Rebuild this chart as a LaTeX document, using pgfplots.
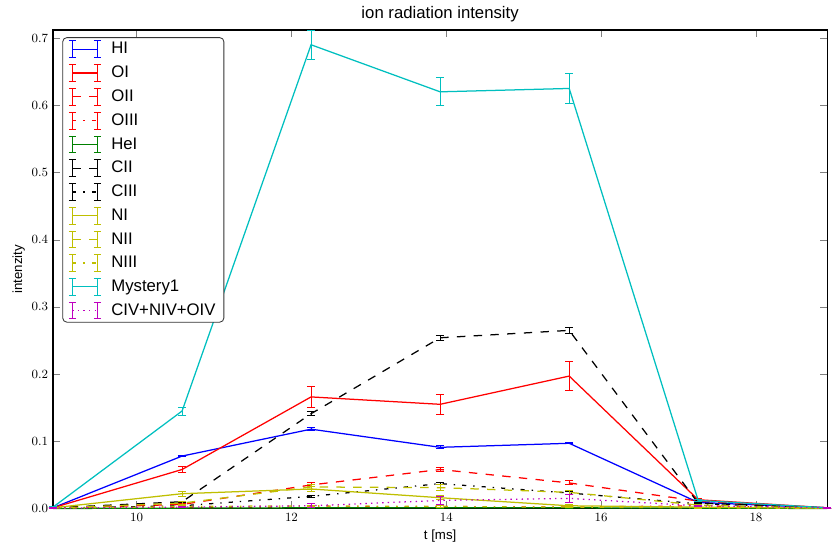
\documentclass[border=0pt]{standalone}
\usepackage{pgfplots}
\pgfplotsset{compat=1.18}
\usepackage{pgfplotstable}
\usepackage{fontspec}
\setmainfont{Liberation Sans}
\definecolor{mplb}{rgb}{0,0,1}
\definecolor{mplr}{rgb}{1,0,0}
\definecolor{mplg}{rgb}{0,0.5,0}
\definecolor{mplk}{rgb}{0,0,0}
\definecolor{mply}{rgb}{0.75,0.75,0}
\definecolor{mplc}{rgb}{0,0.75,0.75}
\definecolor{mplm}{rgb}{0.75,0,0.75}

\pgfplotstableread{
x y e
8.92 0.001 0.0005
10.587 0.078 0.001
12.253 0.118 0.002
13.92 0.091 0.002
15.587 0.097 0.001
17.253 0.009 0.001
18.92 0.001 0.0005
}\HI
\pgfplotstableread{
x y e
8.92 0.001 0.001
10.587 0.058 0.004
12.253 0.166 0.016
13.92 0.155 0.015
15.587 0.197 0.022
17.253 0.013 0.002
18.92 0.001 0.0005
}\OI
\pgfplotstableread{
x y e
8.92 0.0005 0.0005
10.587 0.006 0.002
12.253 0.035 0.003
13.92 0.058 0.003
15.587 0.038 0.003
17.253 0.011 0.001
18.92 0.001 0.0005
}\OII
\pgfplotstableread{
x y e
8.92 0.0002 0.0005
10.587 0.001 0.001
12.253 0.002 0.001
13.92 0.003 0.001
15.587 0.002 0.001
17.253 0.004 0.001
18.92 0.0005 0.0005
}\OIII
\pgfplotstableread{
x y e
8.92 0.0 0.0002
10.587 0.0005 0.0003
12.253 0.001 0.0003
13.92 0.001 0.0003
15.587 0.001 0.0003
17.253 0.0005 0.0003
18.92 0.0 0.0002
}\HeI
\pgfplotstableread{
x y e
8.92 0.001 0.0005
10.587 0.010 0.001
12.253 0.141 0.003
13.92 0.254 0.004
15.587 0.265 0.005
17.253 0.008 0.001
18.92 0.001 0.0005
}\CII
\pgfplotstableread{
x y e
8.92 0.0005 0.0005
10.587 0.004 0.001
12.253 0.018 0.002
13.92 0.037 0.002
15.587 0.023 0.002
17.253 0.007 0.001
18.92 0.001 0.0005
}\CIII
\pgfplotstableread{
x y e
8.92 0.001 0.0005
10.587 0.022 0.004
12.253 0.029 0.004
13.92 0.016 0.003
15.587 0.004 0.002
17.253 0.002 0.001
18.92 0.0005 0.0005
}\NI
\pgfplotstableread{
x y e
8.92 0.0005 0.0005
10.587 0.008 0.002
12.253 0.032 0.004
13.92 0.031 0.004
15.587 0.024 0.003
17.253 0.005 0.001
18.92 0.0005 0.0005
}\NII
\pgfplotstableread{
x y e
8.92 0.0002 0.0005
10.587 0.003 0.001
12.253 0.004 0.001
13.92 0.003 0.001
15.587 0.002 0.001
17.253 0.001 0.001
18.92 0.0002 0.0005
}\NIII
\pgfplotstableread{
x y e
8.92 0.002 0.001
10.587 0.145 0.006
12.253 0.690 0.022
13.92 0.620 0.021
15.587 0.625 0.023
17.253 0.012 0.002
18.92 0.001 0.0005
}\MYS
\pgfplotstableread{
x y e
8.92 0.0005 0.0005
10.587 0.002 0.001
12.253 0.004 0.003
13.92 0.012 0.006
15.587 0.015 0.006
17.253 0.004 0.001
18.92 0.001 0.0005
}\CIV

\begin{document}
\begin{tikzpicture}
\begin{axis}[
  scale only axis,
  width=555pt, height=343pt,
  xmin=8.92, xmax=18.92,
  ymin=0, ymax=0.712,
  xtick={10,12,14,16,18},
  ytick={0,0.1,0.2,0.3,0.4,0.5,0.6,0.7},
  yticklabel style={/pgf/number format/fixed, /pgf/number format/fixed zerofill, /pgf/number format/precision=1, font=\small},
  xticklabel style={font=\small},
  scaled y ticks=false,
  tick align=inside,
  tick pos=both,
  major tick length=5pt,
  axis line style={line width=0.8pt},
  title={ion radiation intensity},
  title style={font=\fontsize{12}{14}\selectfont, yshift=-4pt},
  xlabel={t [ms]},
  ylabel={intenzity},
  xlabel style={font=\fontsize{9.5}{11}\selectfont, yshift=1pt},
  ylabel style={font=\fontsize{9.5}{11}\selectfont, yshift=-2pt},
  legend style={at={(0.012,0.985)}, anchor=north west, draw=black!80, rounded corners=3pt,
    font=\fontsize{12}{14}\selectfont, row sep=3.2pt, inner xsep=4pt, inner ysep=1.5pt,
    line width=0.6pt},
  legend cell align=left,
  legend image code/.code={
    \draw[#1, line width=0.9pt] (0pt,0pt) -- (18pt,0pt);
    \draw[#1, solid, line width=0.7pt] (0pt,-6pt) -- (0pt,6pt) (-2.5pt,-6pt) -- (2.5pt,-6pt) (-2.5pt,6pt) -- (2.5pt,6pt);
    \draw[#1, solid, line width=0.7pt] (18pt,-6pt) -- (18pt,6pt) (15.5pt,-6pt) -- (20.5pt,-6pt) (15.5pt,6pt) -- (20.5pt,6pt);
    \path[draw=none, fill=none] (-2.5pt,0pt) rectangle (26pt,0.1pt);
  },
  every axis plot/.append style={line width=0.9pt, mark=none},
  error bars/y dir=both,
  error bars/y explicit,
  error bars/error bar style={solid, line width=0.7pt},
  error bars/error mark options={rotate=90, mark size=3pt, solid, line width=0.7pt},
  clip=false,
]
\pgfplotsset{dsh/.style={dash pattern=on 6pt off 6pt}, dd/.style={dash pattern=on 3pt off 5pt on 1pt off 5pt}, dt/.style={dash pattern=on 1pt off 3pt}}
\addplot[color=mplb] table[x=x,y=y,y error=e] {\HI};
\addlegendentry{HI}
\addplot[color=mplr] table[x=x,y=y,y error=e] {\OI};
\addlegendentry{OI}
\addplot[color=mplr, dsh] table[x=x,y=y,y error=e] {\OII};
\addlegendentry{OII}
\addplot[color=mplr, dd] table[x=x,y=y,y error=e] {\OIII};
\addlegendentry{OIII}
\addplot[color=mplg] table[x=x,y=y,y error=e] {\HeI};
\addlegendentry{HeI}
\addplot[color=mplk, dsh] table[x=x,y=y,y error=e] {\CII};
\addlegendentry{CII}
\addplot[color=mplk, dd] table[x=x,y=y,y error=e] {\CIII};
\addlegendentry{CIII}
\addplot[color=mply] table[x=x,y=y,y error=e] {\NI};
\addlegendentry{NI}
\addplot[color=mply, dsh] table[x=x,y=y,y error=e] {\NII};
\addlegendentry{NII}
\addplot[color=mply, dd] table[x=x,y=y,y error=e] {\NIII};
\addlegendentry{NIII}
\addplot[color=mplc] table[x=x,y=y,y error=e] {\MYS};
\addlegendentry{Mystery1}
\addplot[color=mplm, dt] table[x=x,y=y,y error=e] {\CIV};
\addlegendentry{CIV+NIV+OIV}
\end{axis}
\pgfresetboundingbox
\path[use as bounding box] (-38pt,-31.5pt) rectangle (562pt,364.5pt);
\end{tikzpicture}
\end{document}
